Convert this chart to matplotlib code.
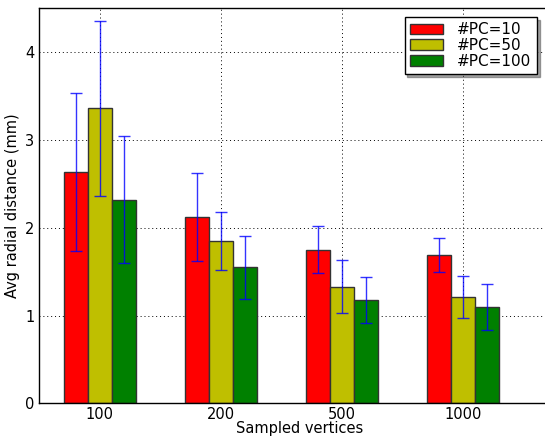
import numpy as np
import matplotlib
matplotlib.use('Agg')
import matplotlib.pyplot as plt

# ── Daten ────────────────────────────────────────────────────
groups = ['100', '200', '500', '1000']
labels = ['#PC=10', '#PC=50', '#PC=100']
colors = ['r', 'y', 'g']

means = [
    [2.64, 2.125, 1.75, 1.69],   # #PC=10
    [3.36, 1.845, 1.33, 1.21],   # #PC=50
    [2.32, 1.55, 1.18, 1.10],    # #PC=100
]
errs = [
    [0.90, 0.50, 0.265, 0.19],
    [1.00, 0.33, 0.30, 0.235],
    [0.72, 0.36, 0.26, 0.26],
]

# ── Plot ─────────────────────────────────────────────────────
plt.rcParams['font.family'] = 'DejaVu Sans'
fig = plt.figure(figsize=(5.45, 4.36), dpi=100)
ax = fig.add_axes([0.0721, 0.075, 0.955, 0.906])

width = 0.2
x = np.arange(len(groups))
for k in range(len(labels)):
    ax.bar(x + 0.2 + k * width, means[k], width, align='edge',
           color=colors[k], edgecolor='#333333', linewidth=1.0,
           label=labels[k], zorder=2)
    ax.errorbar(x + 0.3 + k * width, means[k], yerr=errs[k], fmt='none',
                ecolor='b', elinewidth=1.0, capsize=4, capthick=1.0,
                alpha=0.8, zorder=3)

ax.set_xlim(0, 4.3)
ax.set_ylim(0, 4.5)
ax.set_xticks(x + 0.5)
ax.set_xticklabels(groups)
ax.set_yticks([0, 1, 2, 3, 4])
ax.tick_params(direction='in', length=0, labelsize=10.5)
ax.tick_params(axis='x', pad=3)
ax.grid(True, linestyle=(0, (1, 3)), color='black', linewidth=0.7, zorder=1)
ax.set_axisbelow(True)
for s in ax.spines.values():
    s.set_linewidth(1.0)

ax.set_xlabel('Sampled vertices', fontsize=10.5, labelpad=-1)
ax.set_ylabel('Avg radial distance (mm)', fontsize=10.5, labelpad=4)

leg = ax.legend(loc='upper right', bbox_to_anchor=(0.985, 0.961),
                bbox_transform=fig.transFigure, borderaxespad=0,
                fancybox=False, shadow=True, fontsize=11,
                handlelength=2.2, handletextpad=0.9, labelspacing=0.05,
                borderpad=0.35)
leg.get_frame().set_edgecolor('black')
leg.get_frame().set_linewidth(1.0)

fig.savefig('out.png', dpi=100)
